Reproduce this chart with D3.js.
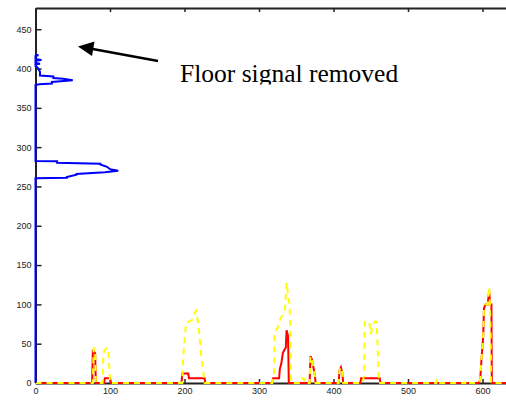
<!DOCTYPE html>
<html lang="en">
<head>
<meta charset="UTF-8">
<title>Floor signal removed</title>
<style>
  body { margin: 0; background: #fff; }
  svg { display: block; }
  .tick text { font-family: "Liberation Sans", Arial, sans-serif; font-size: 9px; fill: #222; }
</style>
<script src="https://d3js.org/d3.v7.min.js"></script>
</head>
<body>
<div id="chart"></div>
<script>
// floor signal (blue): value along x, plotted against height on y
var floorHeight = [0, 260.5, 261, 262, 265, 266, 268, 270, 272, 275, 278, 279, 280, 282, 282.5,
                   379, 380, 381, 383, 385, 387, 388, 390, 391, 396, 401, 403,
                   405, 406, 407, 410, 411, 412, 416, 417, 417.5];
var floorValue  = [0, 0, 42, 42, 55, 55, 93, 111, 100, 96, 87, 87, 29, 29, 0,
                   0, 5, 22, 22, 50, 37, 24, 24, 6, 6, 3, 0,
                   0, 6, 0, 0, 8, 0, 0, 4, 0];

// red solid series
var redX = [0, 76, 77, 78, 80, 81, 92, 93, 100, 101, 196, 197, 205, 206, 227, 228,
            318, 319, 327, 328, 330, 332, 334, 336, 337, 339, 340,
            368, 369, 371, 373, 375, 376, 407, 408, 410, 412, 413, 436, 437, 462, 463,
            595, 597, 599, 601, 602, 604, 607, 609, 610, 612, 612.5, 640];
var redY = [0, 0, 42, 40, 38, 0, 0, 6, 6, 0, 0, 12, 12, 6, 6, 0,
            0, 6, 6, 18, 25, 38, 42, 45, 67, 60, 0,
            0, 34, 30, 20, 10, 0, 0, 16, 20, 12, 0, 0, 6, 6, 0,
            0, 5, 35, 60, 95, 100, 100, 118, 100, 100, 0, 0];

// yellow dashed series
var yellowX = [0, 77, 78, 80, 81, 90, 91, 93, 96, 98, 99, 100,
               197, 198, 202, 206, 210, 214, 216, 219, 222, 225, 227,
               318, 320, 321, 325, 327, 333, 335, 337, 339, 341, 342, 343,
               357, 358, 360, 361, 368, 369, 371, 373, 375, 376, 407, 408, 410, 412, 413,
               439, 441, 442, 448, 450, 452, 455, 458, 459, 461,
               538, 539, 541, 577, 578, 580,
               595, 597, 599, 601, 602, 604, 607, 609, 610, 611, 611.5, 640];
var yellowY = [0, 0, 44, 44, 0, 0, 38, 42, 45, 40, 20, 0,
               0, 30, 76, 78, 80, 90, 92, 70, 40, 15, 0,
               0, 10, 65, 70, 78, 90, 95, 128, 112, 100, 60, 0,
               0, 6, 6, 0, 0, 34, 30, 20, 10, 0, 0, 16, 20, 12, 0,
               0, 10, 78, 78, 62, 70, 78, 78, 50, 0,
               0, 5, 0, 0, 3, 0,
               0, 5, 35, 60, 95, 100, 100, 122, 100, 60, 0, 0];

var xTicks = [0, 100, 200, 300, 400, 500, 600];
var yTicks = [0, 50, 100, 150, 200, 250, 300, 350, 400, 450];

var width = 506, height = 402;
var plotLeft = 35.5, plotTop = 8, plotBottom = 383;

var x = d3.scaleLinear().domain([0, 640]).range([plotLeft, plotLeft + 640 * 0.745]);
var y = d3.scaleLinear().domain([0, 477]).range([plotBottom, plotTop]);

var svg = d3.select("#chart").append("svg")
    .attr("width", width)
    .attr("height", height);

// axes box
var axisColor = "#222";
var gx = svg.append("g")
    .attr("transform", "translate(0," + plotBottom + ")")
    .call(d3.axisBottom(x).tickValues(xTicks).tickSize(-4).tickPadding(4.5).tickSizeOuter(0));
var gt = svg.append("g")
    .attr("transform", "translate(0," + plotTop + ")")
    .call(d3.axisTop(x).tickValues(xTicks).tickSize(-4).tickFormat("").tickSizeOuter(0));
var gy = svg.append("g")
    .attr("transform", "translate(" + plotLeft + ",0)")
    .call(d3.axisLeft(y).tickValues(yTicks).tickSize(-6).tickPadding(4).tickSizeOuter(0));
[gx, gt, gy].forEach(function(g) {
  g.select(".domain").attr("stroke", axisColor).attr("stroke-width", 2);
  g.selectAll(".tick line").attr("stroke", axisColor).attr("stroke-width", 1.5);
});

// data lines
var line = d3.line();

svg.append("path")
    .attr("d", line(redX.map(function(d, i) { return [x(d), y(redY[i])]; })))
    .attr("fill", "none")
    .attr("stroke", "#ff0000")
    .attr("stroke-width", 2);

svg.append("path")
    .attr("d", line(yellowX.map(function(d, i) { return [x(d), y(yellowY[i])]; })))
    .attr("fill", "none")
    .attr("stroke", "#ffff00")
    .attr("stroke-width", 2)
    .attr("stroke-dasharray", "6,5");

svg.append("path")
    .attr("d", line(floorHeight.map(function(h, i) { return [x(floorValue[i]), y(h)]; })))
    .attr("fill", "none")
    .attr("stroke", "#0000ff")
    .attr("stroke-width", 2);

// annotation
svg.append("defs").append("clipPath").attr("id", "textclip")
  .append("rect").attr("x", 0).attr("y", 0).attr("width", width).attr("height", 84.5);

svg.append("text")
    .attr("x", 180)
    .attr("y", 82)
    .attr("clip-path", "url(#textclip)")
    .style("font-family", "'Liberation Serif', 'Times New Roman', serif")
    .style("font-size", "25.5px")
    .attr("fill", "#000")
    .text("Floor signal removed");

svg.append("line")
    .attr("x1", 158).attr("y1", 61)
    .attr("x2", 90).attr("y2", 48.5)
    .attr("stroke", "#000")
    .attr("stroke-width", 2.5);
svg.append("path")
    .attr("d", "M78,46.5 L94.5,41.5 L92,56 Z")
    .attr("fill", "#000");
</script>
</body>
</html>
